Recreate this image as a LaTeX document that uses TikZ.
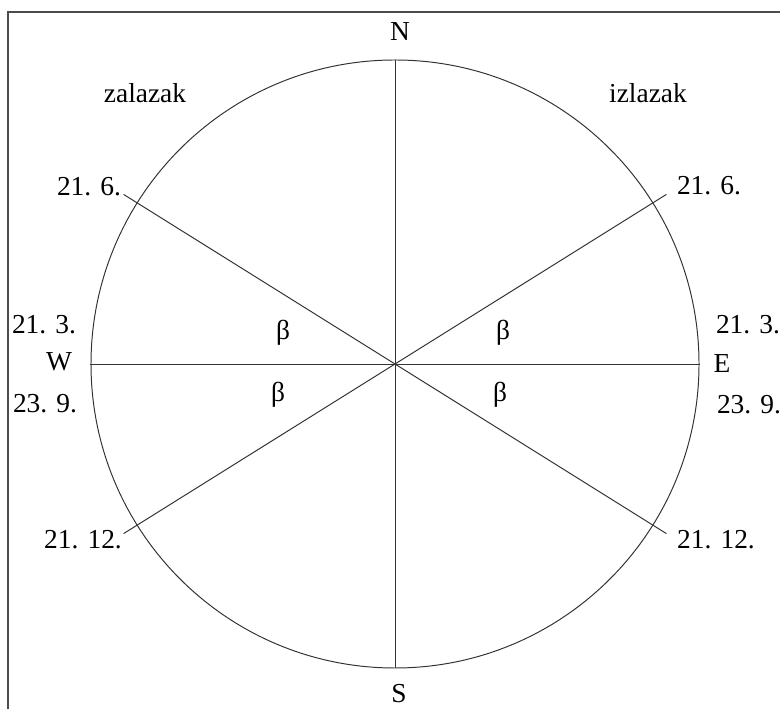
\documentclass[tikz,border=0pt]{standalone}
\usepackage{fontspec}
\setmainfont{Liberation Serif}
\begin{document}
\begin{tikzpicture}[x=0.025cm,y=0.025cm,
  lbl/.style={inner sep=0pt,font=\fontsize{19.5}{23}\selectfont},
  ray/.style={line width=0.7pt,draw=black!80},
  frameline/.style={line width=0.8pt,draw=black!70}]
\useasboundingbox (0,0) rectangle (780,709);
\coordinate (TL) at (8,697);
\coordinate (BL) at (8,0);
\coordinate (TR) at (780,697);
\draw[frameline] (BL) -- (TL) -- (TR);
\coordinate (O) at (395,345);
\draw[ray] (O) circle (304);
\path (O) ++(90:304) coordinate (Np) (O) ++(270:304) coordinate (Sp)
      (O) ++(180:305) coordinate (Wp) (O) ++(0:305) coordinate (Ep)
      (O) ++(32:320) coordinate (A1) (O) ++(148:320) coordinate (A2)
      (O) ++(212:320) coordinate (A3) (O) ++(328:320) coordinate (A4);
\draw[ray] (Np) -- (Sp);
\draw[ray] (Wp) -- (Ep);
\draw[ray] (A2) -- (A4);
\draw[ray] (A3) -- (A1);
\node[lbl] (N) at (400,677) {N};
\node[lbl] (S) at (399,15) {S};
\node[lbl] (W) at (59,347) {W};
\node[lbl] (E) at (722,345) {E};
\node[lbl] (zal) at (145,616) {zalazak};
\node[lbl] (izl) at (648,616) {izlazak};
\node[lbl] (l216) at (89,522) {21. 6.};
\node[lbl] (r216) at (709,523) {21. 6.};
\node[lbl] (l213) at (44,384) {21. 3.};
\node[lbl] (r213) at (748,384) {21. 3.};
\node[lbl] (l239) at (45,305) {23. 9.};
\node[lbl] (r239) at (749,304) {23. 9.};
\node[lbl] (l2112) at (83,169) {21. 12.};
\node[lbl] (r2112) at (716,169) {21. 12.};
\node[lbl] (b1) at (283,376) {β};
\node[lbl] (b2) at (503,376) {β};
\node[lbl] (b3) at (278,314) {β};
\node[lbl] (b4) at (500,314) {β};
\end{tikzpicture}
\end{document}
